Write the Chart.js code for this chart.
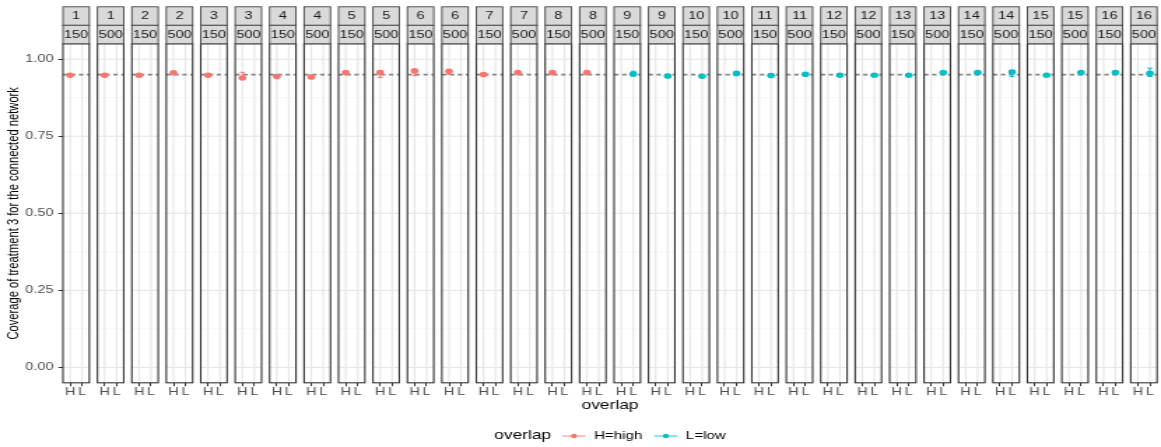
<!DOCTYPE html>
<html>
<head>
<meta charset="utf-8">
<script src="https://cdn.jsdelivr.net/npm/chart.js@4.4.1/dist/chart.umd.min.js"></script>
<style>
  html, body { margin: 0; padding: 0; background: #fff; overflow: hidden; }
  #wrap { width: 1161px; height: 447px; overflow: hidden; }
  /* the plot is laid out narrow and widened to the page */
  #c { display: block; transform-origin: 0 0; transform: scaleX(1.3988); }
</style>
</head>
<body>
<div id="wrap"><canvas id="c" width="830" height="447"></canvas></div>
<script>
// ---- data -------------------------------------------------------------
const scenarios   = ['1','2','3','4','5','6','7','8','9','10','11','12','13','14','15','16'];
const sampleSizes = ['150', '500'];
const overlapOf   = ['H','H','H','H','H','H','H','H','L','L','L','L','L','L','L','L'];
const overlapLevels = ['H', 'L'];
const overlapNames  = ['H=high', 'L=low'];

const coverage150 = [0.948, 0.948, 0.948, 0.9435, 0.9565, 0.962, 0.950, 0.9565, 0.952, 0.9445, 0.947, 0.948, 0.948, 0.9565, 0.948, 0.957];
const lower150    = [0.945, 0.945, 0.944, 0.940, 0.953, 0.9465, 0.946, 0.953, 0.946, 0.941, 0.943, 0.945, 0.945, 0.953, 0.944, 0.954];
const upper150    = [0.951, 0.951, 0.953, 0.947, 0.959, 0.964, 0.953, 0.959, 0.961, 0.949, 0.951, 0.951, 0.951, 0.959, 0.951, 0.959];

const coverage500 = [0.948, 0.956, 0.939, 0.9425, 0.957, 0.961, 0.9565, 0.957, 0.9455, 0.954, 0.951, 0.948, 0.9565, 0.9585, 0.9565, 0.954];
const lower500    = [0.944, 0.953, 0.934, 0.938, 0.941, 0.951, 0.953, 0.954, 0.943, 0.951, 0.948, 0.944, 0.954, 0.9435, 0.953, 0.944];
const upper500    = [0.953, 0.959, 0.9575, 0.948, 0.962, 0.964, 0.959, 0.960, 0.949, 0.957, 0.953, 0.953, 0.959, 0.9635, 0.959, 0.971];

const yTicks = [0, 0.25, 0.5, 0.75, 1];
const nominalCoverage = 0.95;

// ---- look -------------------------------------------------------------
const FONT = '"Liberation Sans", Arial, sans-serif';
const groupColor = { H: '#F8766D', L: '#00BFC4' };
const groupKeyLine = { H: 'rgba(248,118,109,0.45)', L: 'rgba(0,191,196,0.45)' };
const TICK_SIZE = 10.4, STRIP_SIZE = 10.4, TITLE_SIZE = 12.4, LEGEND_SIZE = 10.8;

// facet geometry in x-scale units: a discrete H/L axis with 0.6 expansion
const PANEL_W = 2.2;
const PANEL_STEP = 2.873;
const GROUP_POS = { H: 0.6, L: 1.6 };

const bySize = {
  '150': { est: coverage150, lo: lower150, hi: upper150 },
  '500': { est: coverage500, lo: lower500, hi: upper500 }
};

const panels = [];
scenarios.forEach((sc, i) => {
  sampleSizes.forEach(n => {
    const k = panels.length;
    panels.push({
      scenario: sc, size: n, group: overlapOf[i],
      left: k * PANEL_STEP,
      est: bySize[n].est[i], lo: bySize[n].lo[i], hi: bySize[n].hi[i]
    });
  });
});

const xMax = (panels.length - 1) * PANEL_STEP + PANEL_W;
const yMinor = yTicks.slice(1).map((v, i) => (v + yTicks[i]) / 2);

function seriesFor(g) {
  return panels.filter(p => p.group === g)
               .map(p => ({ x: p.left + GROUP_POS[g], y: p.est }));
}

// ---- facet drawing ----------------------------------------------------
function hline(ctx, x1, x2, y) { ctx.beginPath(); ctx.moveTo(x1, y); ctx.lineTo(x2, y); ctx.stroke(); }
function vline(ctx, x, y1, y2) { ctx.beginPath(); ctx.moveTo(x, y1); ctx.lineTo(x, y2); ctx.stroke(); }

const facetPlugin = {
  id: 'facets',
  beforeDatasetsDraw(chart) {
    const { ctx, chartArea: a, scales: { x, y } } = chart;
    ctx.save();
    panels.forEach(p => {
      const l = x.getPixelForValue(p.left);
      const r = x.getPixelForValue(p.left + PANEL_W);
      ctx.fillStyle = '#ffffff';
      ctx.fillRect(l, a.top, r - l, a.bottom - a.top);

      ctx.strokeStyle = '#F2F2F2'; ctx.lineWidth = 0.7;
      yMinor.forEach(v => hline(ctx, l, r, y.getPixelForValue(v)));
      ctx.strokeStyle = '#E8E8E8'; ctx.lineWidth = 1.2;
      yTicks.forEach(v => hline(ctx, l, r, y.getPixelForValue(v)));
      overlapLevels.forEach(g => vline(ctx, x.getPixelForValue(p.left + GROUP_POS[g]), a.top, a.bottom));

      ctx.strokeStyle = '#858585'; ctx.lineWidth = 1.9;
      ctx.setLineDash([3.2, 2.5]);
      hline(ctx, l, r, y.getPixelForValue(nominalCoverage));
      ctx.setLineDash([]);

      // interval around each estimate
      const px = x.getPixelForValue(p.left + GROUP_POS[p.group]);
      const y1 = y.getPixelForValue(p.lo), y2 = y.getPixelForValue(p.hi);
      ctx.strokeStyle = groupColor[p.group]; ctx.lineWidth = 1;
      vline(ctx, px, y1, y2);
      hline(ctx, px - 1.8, px + 1.8, y1);
      hline(ctx, px - 1.8, px + 1.8, y2);
    });
    ctx.restore();
  },
  afterDatasetsDraw(chart) {
    const { ctx, chartArea: a, scales: { x } } = chart;
    const stripH = 18.5;
    ctx.save();
    panels.forEach(p => {
      const l = x.getPixelForValue(p.left);
      const r = x.getPixelForValue(p.left + PANEL_W);
      ctx.strokeStyle = '#333333'; ctx.lineWidth = 1.1;
      ctx.strokeRect(l, a.top, r - l, a.bottom - a.top);

      [p.scenario, p.size].forEach((txt, row) => {
        const top = a.top - stripH * (2 - row);
        ctx.fillStyle = '#D9D9D9';
        ctx.fillRect(l, top, r - l, stripH);
        ctx.strokeStyle = '#444444'; ctx.lineWidth = 0.9;
        ctx.strokeRect(l, top, r - l, stripH);
        ctx.fillStyle = '#1A1A1A';
        ctx.font = `${STRIP_SIZE}px ${FONT}`;
        ctx.textAlign = 'center'; ctx.textBaseline = 'middle';
        ctx.fillText(txt, (l + r) / 2, top + stripH / 2 + 0.5);
      });
    });
    ctx.restore();
  },
  afterDraw(chart) {
    // legend row under the axis title
    const { ctx, chartArea: a } = chart;
    const cy = 436;
    const titleFont = `${TITLE_SIZE}px ${FONT}`, labelFont = `${LEGEND_SIZE}px ${FONT}`;
    const keyW = 16.7;
    ctx.save();
    ctx.textBaseline = 'middle'; ctx.textAlign = 'left';
    ctx.font = titleFont;
    const titleW = ctx.measureText('overlap').width;
    ctx.font = labelFont;
    const labW = overlapNames.map(t => ctx.measureText(t).width);
    const total = titleW + 8 + overlapLevels.reduce((s, g, i) => s + keyW + 6 + labW[i] + (i < overlapLevels.length - 1 ? 8.5 : 0), 0);
    let cx = (a.left + a.right) / 2 - total / 2;
    ctx.fillStyle = '#000'; ctx.font = titleFont;
    ctx.fillText('overlap', cx, cy);
    cx += titleW + 8;
    overlapLevels.forEach((g, i) => {
      ctx.strokeStyle = groupKeyLine[g]; ctx.lineWidth = 1.9;
      hline(ctx, cx, cx + keyW, cy);
      ctx.fillStyle = groupColor[g];
      ctx.beginPath(); ctx.arc(cx + keyW / 2, cy, 2.2, 0, Math.PI * 2); ctx.fill();
      cx += keyW + 6;
      ctx.fillStyle = '#000'; ctx.font = labelFont;
      ctx.fillText(overlapNames[i], cx, cy);
      cx += labW[i] + 8.5;
    });
    ctx.restore();
  }
};

// ---- chart ------------------------------------------------------------
new Chart(document.getElementById('c'), {
  type: 'scatter',
  data: {
    datasets: overlapLevels.map((g, i) => ({
      label: overlapNames[i],
      data: seriesFor(g),
      backgroundColor: groupColor[g],
      borderWidth: 0,
      pointRadius: 2.8,
      pointHoverRadius: 2.8
    }))
  },
  options: {
    responsive: false,
    animation: false,
    devicePixelRatio: 1,
    events: [],
    layout: { padding: { top: 43.8, left: 0, right: 0, bottom: 34.2 } },
    plugins: { legend: { display: false }, tooltip: { enabled: false } },
    scales: {
      x: {
        type: 'linear',
        min: 0, max: xMax,
        afterBuildTicks(scale) {
          scale.ticks = [];
          panels.forEach(p => overlapLevels.forEach(g => scale.ticks.push({ value: p.left + GROUP_POS[g] })));
        },
        afterFit(scale) { scale.height = 30; },
        ticks: {
          autoSkip: false, maxRotation: 0, minRotation: 0, padding: 0,
          color: '#4D4D4D', font: { family: FONT, size: TICK_SIZE },
          callback: (v, i) => overlapLevels[i % overlapLevels.length]
        },
        grid: { drawOnChartArea: false, drawTicks: true, tickLength: 3.4, color: '#333333', lineWidth: 1 },
        border: { display: false },
        title: { display: true, text: 'overlap', color: '#000', font: { family: FONT, size: TITLE_SIZE }, padding: { top: 0, bottom: 0.2 } }
      },
      y: {
        type: 'linear',
        min: -0.05, max: 1.05,
        afterBuildTicks(scale) { scale.ticks = yTicks.map(v => ({ value: v })); },
        afterFit(scale) { scale.width = 45; },
        ticks: {
          padding: 3.5, color: '#4D4D4D', font: { family: FONT, size: TICK_SIZE },
          callback: v => v.toFixed(2)
        },
        grid: { drawOnChartArea: false, drawTicks: true, tickLength: 3.2, color: '#333333', lineWidth: 1 },
        border: { display: false },
        title: { display: true, text: 'Coverage of treatment 3 for the connected network', color: '#000', font: { family: FONT, size: 11.2 }, padding: { top: 3.6, bottom: 0 } }
      }
    }
  },
  plugins: [facetPlugin]
});
</script>
</body>
</html>
